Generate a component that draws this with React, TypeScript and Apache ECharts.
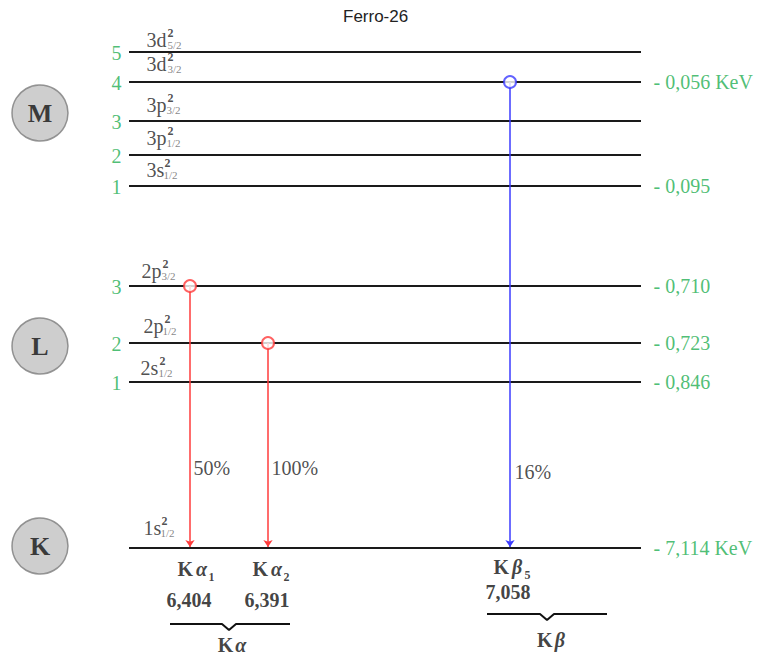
import React, { useEffect, useRef } from 'react';
import * as echarts from 'echarts';

// ---------- data ----------
const TITLE = 'Ferro-26';

const shellNames = ['M', 'L', 'K'];

const levelOrbital = ['3d', '3d', '3p', '3p', '3s', '2p', '2p', '2s', '1s'];
const levelOccupancy = ['2', '2', '2', '2', '2', '2', '2', '2', '2'];
const levelJ = ['5/2', '3/2', '3/2', '1/2', '1/2', '3/2', '1/2', '1/2', '1/2'];
const levelIndex = ['5', '4', '3', '2', '1', '3', '2', '1', ''];
const levelEnergy = ['', '- 0,056 KeV', '', '', '- 0,095', '- 0,710', '- 0,723', '- 0,846', '- 7,114 KeV'];

const transitionLetter = ['α', 'α', 'β'];
const transitionSub = ['1', '2', '5'];
const transitionFrom = [5, 6, 1];
const transitionTo = [8, 8, 8];
const transitionEnergy = ['6,404', '6,391', '7,058'];
const transitionIntensity = ['50%', '100%', '16%'];

const groupLetter = ['α', 'β'];

// ---------- layout (pixel-like diagram coordinates) ----------
const W = 760;
const H = 657;
const shellX = 40;
const shellY = [113, 346, 546];
const levelY = [52, 82, 121, 155, 186, 286, 343, 382, 548];
const levelLine = [129, 641];
const levelLabelX = [146, 146, 146, 146, 146, 141, 143, 140, 143];
const levelLabelY = [40, 64, 105, 138, 170, 271, 326, 368, 528];
const levelSupX = [167, 167, 167, 167, 164, 162, 164, 159, 161];
const levelSubX = [167, 167, 166, 166, 163, 161, 162, 158, 160];
const indexX = 122;
const energyX = 653;
const transitionX = [190, 268, 510];
const transitionColor = ['#ff3b3b', '#ff3b3b', '#3b3bff'];
const intensityX = [193, 271, 514];
const intensityY = [468, 468, 472];
const nameX = [177, 252, 493];
const nameY = [569, 569, 567];
const energyLblX = [189, 267, 508];
const energyLblY = [600, 600, 592];
const braceSpan = [[170, 290], [487, 607]];
const braceTip = [229, 547];
const braceY = [624, 614];
const groupX = [232, 551];
const groupY = [645, 640];

const GREEN = '#1fae52';
const SERIF = '"Liberation Serif", "Times New Roman", serif';

function textSeries(name: string, data: any[], label: any, z = 10) {
  return {
    type: 'scatter',
    name,
    data,
    symbolSize: 1,
    silent: true,
    z,
    itemStyle: { color: 'rgba(0,0,0,0)' },
    label: { show: true, formatter: '{b}', fontFamily: SERIF, ...label },
  };
}

export default function App() {
  const ref = useRef<HTMLDivElement>(null);

  useEffect(() => {
    if (!ref.current) return;
    const chart = echarts.init(ref.current, undefined, { renderer: 'svg' });

    const series: any[] = [];

    // level lines
    series.push({
      type: 'lines',
      coordinateSystem: 'cartesian2d',
      silent: true,
      z: 2,
      lineStyle: { color: '#1a1a1a', width: 2, opacity: 1 },
      data: levelY.map((y) => ({ coords: [[levelLine[0], y], [levelLine[1], y]] })),
    });

    // transitions (arrows)
    series.push({
      type: 'lines',
      coordinateSystem: 'cartesian2d',
      silent: true,
      z: 3,
      symbol: ['none', 'arrow'],
      symbolSize: 7,
      lineStyle: { width: 1.5, opacity: 1 },
      data: transitionFrom.map((f, i) => ({
        coords: [[transitionX[i], levelY[f]], [transitionX[i], levelY[transitionTo[i]] - 1]],
        lineStyle: { color: transitionColor[i] },
      })),
    });

    // origin circles
    series.push({
      type: 'scatter',
      silent: true,
      z: 6,
      symbol: 'circle',
      symbolSize: 12,
      data: transitionFrom.map((f, i) => ({
        value: [transitionX[i], levelY[f]],
        itemStyle: { color: '#ffffff', borderColor: transitionColor[i], borderWidth: 2 },
      })),
    });

    // shells
    series.push({
      type: 'scatter',
      silent: true,
      z: 6,
      symbol: 'circle',
      symbolSize: 56,
      itemStyle: { color: '#c2c2c2', borderColor: '#7d7d7d', borderWidth: 1.5 },
      label: {
        show: true,
        position: 'inside',
        formatter: '{b}',
        fontFamily: SERIF,
        fontWeight: 'bold',
        fontSize: 26,
        color: '#111',
      },
      data: shellNames.map((n, i) => ({ name: n, value: [shellX, shellY[i]] })),
    });

    // level orbital labels
    series.push(
      textSeries(
        'orbital',
        levelOrbital.map((o, i) => ({ name: o, value: [levelLabelX[i], levelLabelY[i]] })),
        { position: 'right', distance: 0, fontSize: 20, color: '#222' }
      )
    );
    series.push(
      textSeries(
        'occupancy',
        levelOccupancy.map((o, i) => ({ name: o, value: [levelSupX[i], levelLabelY[i] - 7] })),
        { position: 'right', distance: 0, fontSize: 12, fontWeight: 'bold', color: '#222' }
      )
    );
    series.push(
      textSeries(
        'j',
        levelJ.map((o, i) => ({ name: o, value: [levelSubX[i], levelLabelY[i] + 5] })),
        { position: 'right', distance: 0, fontSize: 11, color: '#666' }
      )
    );

    // green indices
    series.push(
      textSeries(
        'index',
        levelIndex.map((o, i) => ({ name: o, value: [indexX, levelY[i] + 1] })),
        { position: 'left', distance: 0, fontSize: 20, color: GREEN }
      )
    );
    // green energies
    series.push(
      textSeries(
        'energy',
        levelEnergy.map((o, i) => ({ name: o, value: [energyX, levelY[i]] })),
        { position: 'right', distance: 0, fontSize: 20, color: GREEN }
      )
    );

    // intensities
    series.push(
      textSeries(
        'intensity',
        transitionIntensity.map((o, i) => ({ name: o, value: [intensityX[i], intensityY[i]] })),
        { position: 'right', distance: 0, fontSize: 20, color: '#222' }
      )
    );

    // transition names
    series.push(
      textSeries(
        'tname',
        transitionLetter.map((g, i) => ({ name: g, value: [nameX[i], nameY[i]] })),
        {
          position: 'right',
          distance: 0,
          formatter: (p: any) => '{k|K}{g|' + p.name + '}',
          rich: {
            k: { fontFamily: SERIF, fontWeight: 'bold', fontSize: 20, color: '#111' },
            g: {
              fontFamily: SERIF,
              fontWeight: 'bold',
              fontStyle: 'italic',
              fontSize: 20,
              color: '#111',
              padding: [0, 0, 0, 3],
            },
          },
        }
      )
    );
    series.push(
      textSeries(
        'tsub',
        transitionSub.map((s, i) => ({ name: s, value: [nameX[i] + 31, nameY[i] + 8] })),
        { position: 'right', distance: 0, fontSize: 12, fontWeight: 'bold', color: '#111' }
      )
    );
    series.push(
      textSeries(
        'tenergy',
        transitionEnergy.map((s, i) => ({ name: s, value: [energyLblX[i], energyLblY[i]] })),
        { position: 'inside', fontSize: 20, fontWeight: 'bold', color: '#111' }
      )
    );

    // braces
    braceSpan.forEach((s, i) => {
      series.push({
        type: 'line',
        silent: true,
        symbol: 'none',
        z: 4,
        lineStyle: { color: '#111', width: 2 },
        data: [
          [s[0], braceY[i]],
          [braceTip[i] - 7, braceY[i]],
          [braceTip[i], braceY[i] + 6],
          [braceTip[i] + 7, braceY[i]],
          [s[1], braceY[i]],
        ],
      });
    });
    series.push(
      textSeries(
        'group',
        groupLetter.map((g, i) => ({ name: g, value: [groupX[i], groupY[i]] })),
        {
          position: 'inside',
          formatter: (p: any) => '{k|K}{g|' + p.name + '}',
          rich: {
            k: { fontFamily: SERIF, fontWeight: 'bold', fontSize: 20, color: '#111' },
            g: {
              fontFamily: SERIF,
              fontWeight: 'bold',
              fontStyle: 'italic',
              fontSize: 20,
              color: '#111',
              padding: [0, 0, 0, 2],
            },
          },
        }
      )
    );

    chart.setOption({
      animation: false,
      backgroundColor: '#ffffff',
      title: {
        text: TITLE,
        left: 338,
        top: 3,
        textStyle: {
          fontFamily: '"Liberation Sans", Arial, sans-serif',
          fontWeight: 'normal',
          fontSize: 17,
          color: '#222',
        },
      },
      grid: { left: 0, right: 0, top: 0, bottom: 0 },
      xAxis: { type: 'value', min: 0, max: W, show: false },
      yAxis: { type: 'value', min: 0, max: H, inverse: true, show: false },
      series,
    });

    return () => chart.dispose();
  }, []);

  return (
    <div
      ref={ref}
      style={{ position: 'fixed', left: 0, top: 0, width: W, height: H, background: '#fff' }}
    />
  );
}
